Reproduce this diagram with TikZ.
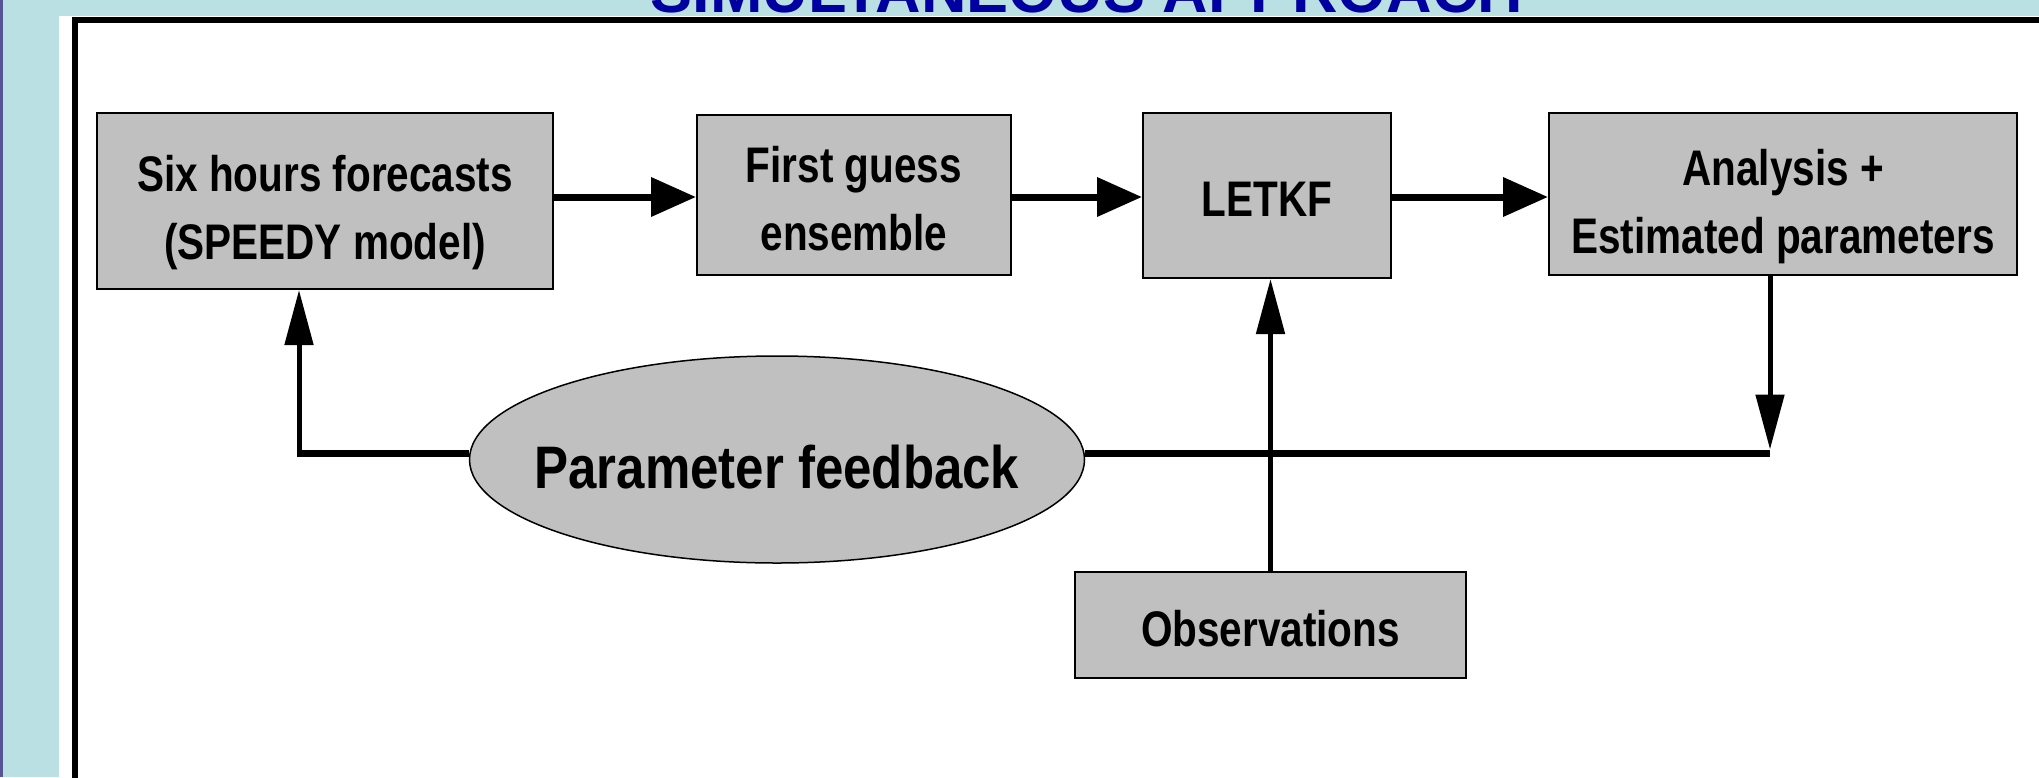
\documentclass[tikz,border=0pt]{standalone}
\usepackage{fontspec}
\setmainfont{Liberation Sans}
\newfontfamily\nar{Liberation Sans}[FakeStretch=0.81]
\newfontfamily\narb{Liberation Sans}[FakeStretch=0.85]
\usetikzlibrary{arrows.meta,shapes.geometric}
\definecolor{bgblue}{RGB}{187,224,228}
\definecolor{titleblue}{RGB}{0,0,160}
\definecolor{boxgray}{RGB}{192,192,192}
\definecolor{edgepurple}{RGB}{85,85,150}
\begin{document}
\begin{tikzpicture}[x=1pt,y=-1pt,
  stepbox/.style={draw=black, fill=boxgray, line width=2pt, inner sep=0pt},
  boxtext/.style={inner sep=0pt, align=center,
    font=\nar\bfseries\fontsize{50}{68}\selectfont},
  fbellipse/.style={ellipse, draw=black, fill=boxgray, line width=1.5pt, inner sep=0pt},
  fbtext/.style={inner sep=0pt, font=\narb\bfseries\fontsize{60}{70}\selectfont},
  harrow/.style={line width=7pt, -{Triangle[length=45pt,width=38pt]}},
  varrow/.style={line width=5pt, -{Triangle[length=55pt,width=28pt]}},
  hline/.style={line width=7pt},
  titletext/.style={text=titleblue, inner sep=0pt, anchor=base,
    font=\bfseries\fontsize{63}{70}\selectfont}]
\useasboundingbox (0,0) rectangle (2039,777);
\clip (0,0) rectangle (2039,777);
% background
\fill[bgblue] (0,0) rectangle (2039,777);
\fill[edgepurple] (0,0) rectangle (3,777);
\fill[white] (59,15.5) rectangle (2045,790);
\draw[line width=6pt, line join=miter] (75,800) -- (75,19.5) -- (2100,19.5);
% title
\node[titletext] (title) at (1087,12.5) {SIMULTANEOUS APPROACH};
% boxes
\node[stepbox, minimum width=456pt, minimum height=176pt] (fc) at (325,201) {};
\node[stepbox, minimum width=314pt, minimum height=160pt] (fg) at (854,195) {};
\node[stepbox, minimum width=248pt, minimum height=165pt] (lk) at (1267,195.5) {};
\node[stepbox, minimum width=468pt, minimum height=162pt] (an) at (1783,194) {};
\node[stepbox, minimum width=391pt, minimum height=106pt] (ob) at (1270.5,625) {};
\node[fbellipse, minimum width=615pt, minimum height=207pt] (fb) at (777,459.5) {};
% texts
\node[boxtext] (fcT) at (325,213) {Six hours forecasts\\(SPEEDY model)};
\node[boxtext] (fgT) at (854,199) {First guess\\ensemble};
\node[boxtext] (lkT) at (1267,199) {LETKF};
\node[boxtext] (anT) at (1783,207) {Analysis +\\Estimated parameters};
\node[boxtext] (obT) at (1270.5,629) {Observations};
\node[fbtext] (fbT) at (777,467) {Parameter feedback};
% helper coordinates
\coordinate (ay) at (0,197);
\coordinate (lc) at (299,453);
\coordinate (rc) at (1770,453);
\coordinate (rt) at (1770,449.5);
% horizontal arrows
\draw[harrow] (fc.east |- ay) -- (fg.west |- ay);
\draw[harrow] (fg.east |- ay) -- (lk.west |- ay);
\draw[harrow] (lk.east |- ay) -- (an.west |- ay);
% feedback loop
\draw[hline] (fb.west |- lc) -- ([xshift=-2.5pt]lc);
\draw[varrow] ([yshift=-3.5pt]lc) -- (fc.south -| lc);
\draw[hline] (fb.east |- rc) -- (rc);
\draw[varrow] (an.south -| rc) -- (rt);
% observations to LETKF
\draw[varrow] (ob.north) -- (lk.south -| ob.north);
\end{tikzpicture}
\end{document}
